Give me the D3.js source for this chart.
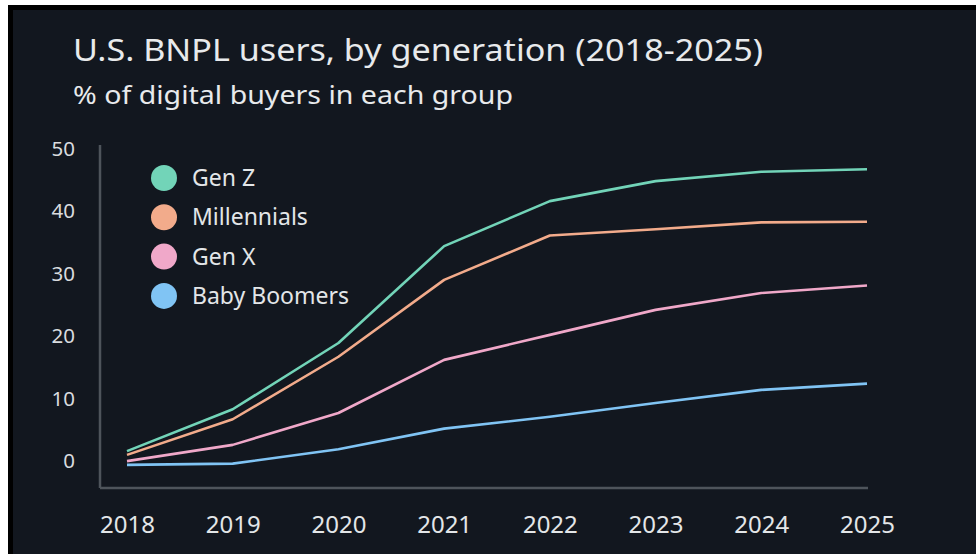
<!DOCTYPE html>
<html>
<head>
<meta charset="utf-8">
<script src="https://cdn.jsdelivr.net/npm/d3@7"></script>
<style>
  html, body { margin: 0; padding: 0; background: #ffffff; }
  svg { display: block; }
  text { font-family: "Noto Sans", "Open Sans", sans-serif; }
</style>
</head>
<body>
<svg id="chart" width="976" height="554"></svg>
<script>
// BNPL adoption share (% of digital buyers) by generation, 2018-2025
const years = [2018, 2019, 2020, 2021, 2022, 2023, 2024, 2025];
const seriesNames = ["Gen Z", "Millennials", "Gen X", "Baby Boomers"];
const genZ        = [2.3, 9.0, 19.6, 35.1, 42.3, 45.5, 47.0, 47.4];
const millennials = [1.7, 7.4, 17.4, 29.7, 36.8, 37.8, 38.9, 39.0];
const genX        = [0.7, 3.3, 8.4, 16.9, 20.9, 24.9, 27.6, 28.8];
const boomers     = [0.1, 0.3, 2.6, 5.9, 7.8, 10.0, 12.1, 13.1];
const yTicks = [0, 10, 20, 30, 40, 50];
const colors = ["#72d4b8", "#f2ab8b", "#f0a8c9", "#80c4f4"];

const series = [genZ, millennials, genX, boomers].map((vals, i) => ({
  name: seriesNames[i],
  color: colors[i],
  points: years.map((y, j) => ({ year: y, value: vals[j] }))
}));

const W = 976, H = 554;
const svg = d3.select("#chart");

// frame: white outer edge, black inner edge, dark panel
svg.append("rect").attr("x", 0).attr("y", 0).attr("width", W).attr("height", H).attr("fill", "#ffffff");
svg.append("rect").attr("x", 8).attr("y", 5).attr("width", W - 8).attr("height", H - 5).attr("fill", "#000000");
svg.append("rect").attr("x", 13).attr("y", 10).attr("width", W - 13).attr("height", H - 10).attr("fill", "#12171f");

const plot = { left: 100, right: 868, top: 145, bottom: 488 };

const x = d3.scaleLinear().domain([2018, 2025]).range([127, 867]);
const y = d3.scaleLinear().domain([-3.6, 51.28]).range([plot.bottom, plot.top]);

// titles
svg.append("text")
  .attr("x", 73).attr("y", 61)
  .attr("fill", "#e8eaec")
  .attr("font-size", 31)
  .attr("textLength", 690).attr("lengthAdjust", "spacingAndGlyphs")
  .text("U.S. BNPL users, by generation (2018-2025)");

svg.append("text")
  .attr("x", 73).attr("y", 104)
  .attr("fill", "#e8eaec")
  .attr("font-size", 24.5)
  .attr("textLength", 440).attr("lengthAdjust", "spacingAndGlyphs")
  .text("% of digital buyers in each group");

// axis lines
const axisColor = "#4e545b";
svg.append("line")
  .attr("x1", plot.left).attr("x2", plot.left)
  .attr("y1", plot.top).attr("y2", plot.bottom)
  .attr("stroke", axisColor).attr("stroke-width", 2.5);
svg.append("line")
  .attr("x1", plot.left).attr("x2", plot.right)
  .attr("y1", plot.bottom).attr("y2", plot.bottom)
  .attr("stroke", axisColor).attr("stroke-width", 2.5);

// y axis labels
const yAxis = svg.append("g")
  .attr("transform", `translate(${plot.left},0)`)
  .call(d3.axisLeft(y).tickValues(yTicks).tickSize(0).tickPadding(25).tickFormat(d3.format("d")));
yAxis.select(".domain").remove();
yAxis.selectAll("text")
  .attr("fill", "#d9dcdf")
  .attr("font-size", 20.5)
  .attr("dy", "0.1em")
  .style("font-family", "'Noto Sans', sans-serif");

// x axis labels
const xAxis = svg.append("g")
  .attr("transform", `translate(0,${plot.bottom})`)
  .call(d3.axisBottom(x).tickValues(years).tickSize(0).tickPadding(28).tickFormat(d3.format("d")));
xAxis.select(".domain").remove();
xAxis.selectAll("text")
  .attr("fill", "#e3e6e8")
  .attr("font-size", 24)
  .style("font-family", "'Noto Sans', sans-serif");

// series lines
const line = d3.line().x(d => x(d.year)).y(d => y(d.value));
svg.append("g").selectAll("path")
  .data(series.slice().reverse())
  .join("path")
  .attr("d", d => line(d.points))
  .attr("fill", "none")
  .attr("stroke", d => d.color)
  .attr("stroke-width", 2.6)
  .attr("stroke-linejoin", "round");

// legend
const legend = svg.append("g").attr("transform", "translate(164,178)");
const rows = legend.selectAll("g")
  .data(series)
  .join("g")
  .attr("transform", (d, i) => `translate(0,${i * 39.3})`);
rows.append("circle").attr("r", 13).attr("fill", d => d.color);
rows.append("text")
  .attr("x", 28).attr("dy", "0.35em")
  .attr("fill", "#e3e6e8")
  .attr("font-size", 23)
  .text(d => d.name);
</script>
</body>
</html>
